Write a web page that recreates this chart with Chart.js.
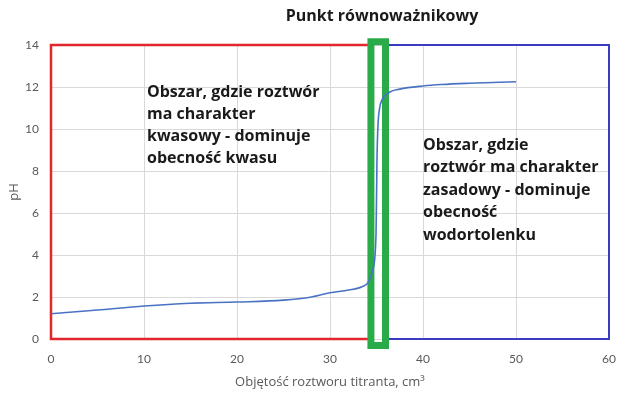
<!DOCTYPE html>
<html>
<head>
<meta charset="utf-8">
<script src="https://cdn.jsdelivr.net/npm/chart.js@4"></script>
<style>
  html, body { margin: 0; padding: 0; background: #ffffff; }
  #wrap { width: 640px; height: 398px; }
</style>
</head>
<body>
<div id="wrap"><canvas id="chart" width="640" height="398"></canvas></div>
<script>
// titration curve
const titrantVolume = [0, 5, 10, 15, 20, 25, 28, 30, 32, 33.5, 34.1, 34.6, 34.95, 35.05, 35.15, 35.3, 35.6, 36.4, 37.5, 40, 42, 45, 50];
const pHValues = [1.2, 1.38, 1.57, 1.7, 1.76, 1.85, 2.0, 2.2, 2.33, 2.5, 2.7, 3.3, 5.0, 8.5, 10.1, 10.9, 11.4, 11.75, 11.9, 12.05, 12.12, 12.18, 12.25];

const xTicks = [0, 10, 20, 30, 40, 50, 60];
const yTicks = [0, 2, 4, 6, 8, 10, 12, 14];

// region boxes in data units: [xMin, xMax, yMin, yMax]
const acidBox = [0, 34.4, 0, 14];
const baseBox = [36, 60, 0, 14];
const equivBox = [34.4, 35.97, -0.31, 14.15];

const acidText = ["Obszar, gdzie roztwór", "ma charakter", "kwasowy - dominuje", "obecność kwasu"];
const baseText = ["Obszar, gdzie", "roztwór ma charakter", "zasadowy - dominuje", "obecność", "wodortolenku"];
const titleText = "Punkt równoważnikowy";

const gray = "#595959";
const gridColor = "#d9d9d9";

function boxPath(ctx, chart, box) {
  const x = chart.scales.x;
  const y = chart.scales.y;
  const x0 = x.getPixelForValue(box[0]);
  const x1 = x.getPixelForValue(box[1]);
  const y0 = y.getPixelForValue(box[2]);
  const y1 = y.getPixelForValue(box[3]);
  ctx.beginPath();
  ctx.rect(x0, y1, x1 - x0, y0 - y1);
}

const regionPlugin = {
  id: "regions",
  beforeDatasetsDraw(chart) {
    const ctx = chart.ctx;
    ctx.save();
    ctx.lineJoin = "miter";

    ctx.strokeStyle = "#e3262b";
    ctx.lineWidth = 2.5;
    boxPath(ctx, chart, acidBox);
    ctx.stroke();

    ctx.strokeStyle = "#3b3bc4";
    ctx.lineWidth = 2;
    boxPath(ctx, chart, baseBox);
    ctx.stroke();

    ctx.strokeStyle = "#2aab4a";
    ctx.lineWidth = 7;
    boxPath(ctx, chart, equivBox);
    ctx.stroke();
    ctx.restore();
  },
  afterDraw(chart) {
    const ctx = chart.ctx;
    ctx.save();
    ctx.fillStyle = "#1a1a1a";
    ctx.textBaseline = "middle";

    ctx.font = "bold 16px 'Open Sans'";
    ctx.textAlign = "center";
    ctx.fillText(titleText, 382, 16);

    ctx.font = "bold 16px 'Open Sans'";
    ctx.textAlign = "left";
    acidText.forEach((line, i) => ctx.fillText(line, 147, 92 + i * 22));
    baseText.forEach((line, i) => ctx.fillText(line, 423, 145 + i * 22.5));
    ctx.restore();
  }
};

new Chart(document.getElementById("chart"), {
  type: "scatter",
  data: {
    datasets: [{
      data: titrantVolume.map((v, i) => ({ x: v, y: pHValues[i] })),
      showLine: true,
      borderColor: "#4a72c4",
      borderWidth: 1.6,
      pointRadius: 0,
      cubicInterpolationMode: "monotone",
      fill: false
    }]
  },
  options: {
    responsive: false,
    animation: false,
    layout: { padding: { top: 45, right: 31, left: 0, bottom: 0 } },
    plugins: {
      legend: { display: false },
      tooltip: { enabled: false }
    },
    scales: {
      x: {
        type: "linear",
        min: 0,
        max: 60,
        afterBuildTicks: (scale) => { scale.ticks = xTicks.map((v) => ({ value: v })); },
        afterFit: (scale) => { scale.height = 59; },
        border: { display: false },
        grid: { color: gridColor, drawTicks: false },
        ticks: { color: gray, font: { family: "Lato", size: 12 }, padding: 13 },
        title: {
          display: true,
          text: "Objętość roztworu titranta, cm³",
          color: gray,
          font: { family: "Open Sans", size: 13 },
          padding: { top: 6, bottom: 8 }
        }
      },
      y: {
        type: "linear",
        min: 0,
        max: 14,
        afterBuildTicks: (scale) => { scale.ticks = yTicks.map((v) => ({ value: v })); },
        afterFit: (scale) => { scale.width = 51; },
        border: { display: false },
        grid: { color: gridColor, drawTicks: false },
        ticks: { color: gray, font: { family: "Lato", size: 12 }, padding: 12 },
        title: {
          display: true,
          text: "pH",
          color: gray,
          font: { family: "Open Sans", size: 13 },
          padding: { top: 6, bottom: 0 }
        }
      }
    }
  },
  plugins: [regionPlugin]
});
</script>
</body>
</html>
